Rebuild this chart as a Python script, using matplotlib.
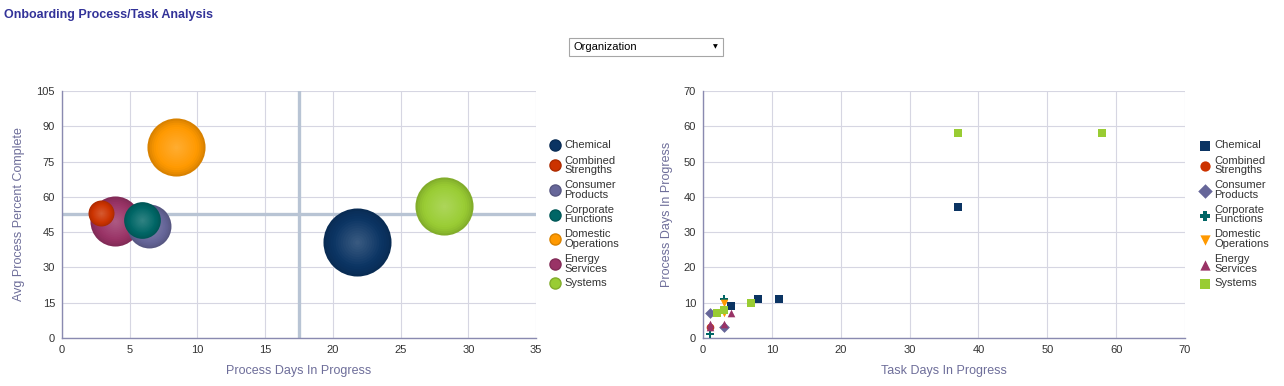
import matplotlib
matplotlib.use("Agg")
import matplotlib.pyplot as plt
import matplotlib.colors as mcolors
from matplotlib.patches import Rectangle
from matplotlib.lines import Line2D
import numpy as np

# ---------------- data ----------------
categories = ["Chemical", "Combined Strengths", "Consumer Products", "Corporate Functions",
              "Domestic Operations", "Energy Services", "Systems"]
legend_labels = ["Chemical", "Combined\nStrengths", "Consumer\nProducts", "Corporate\nFunctions",
                 "Domestic\nOperations", "Energy\nServices", "Systems"]
colors = ["#0b3463", "#cc3300", "#666699", "#006666", "#ff9900", "#993366", "#99cc33"]

# left bubble chart
bubble_x = [21.8, 2.9, 6.4, 5.9, 8.4, 3.9, 28.2]          # Process Days In Progress
bubble_y = [40.9, 53.3, 47.8, 50.2, 81.3, 49.7, 56.1]     # Avg Process Percent Complete
bubble_size = [96, 14, 40, 28, 70, 52, 70]                 # bubble size measure
ref_x = 17.5
ref_y = 52.6

# right scatter chart: Task Days In Progress (x) vs Process Days In Progress (y)
task_chemical = [37, 8, 11, 4]
proc_chemical = [37, 11, 11, 9]
task_combined = [1]
proc_combined = [3]
task_consumer = [1, 3]
proc_consumer = [7, 3]
task_corporate = [1, 3]
proc_corporate = [1, 11]
task_domestic = [3, 3]
proc_domestic = [10, 7]
task_energy = [4, 1, 3, 1]
proc_energy = [7, 4, 4, 3]
task_systems = [37, 58, 7, 2, 3]
proc_systems = [58, 58, 10, 7, 8]

scatter_x = [task_chemical, task_combined, task_consumer, task_corporate, task_domestic, task_energy, task_systems]
scatter_y = [proc_chemical, proc_combined, proc_consumer, proc_corporate, proc_domestic, proc_energy, proc_systems]
markers = ["s", "o", "D", "P", "v", "^", "s"]

# ---------------- styling ----------------
W, H = 1284, 386
fig = plt.figure(figsize=(W / 100, H / 100), dpi=100)
plt.rcParams['font.family'] = ['Liberation Sans', 'DejaVu Sans']

axis_label_color = "#6e6e9a"
tick_color = "#333333"
grid_color = "#d6d6e2"
spine_color = "#8a8ab0"


def px_axes(l, r, t, b):
    return fig.add_axes([l / W, 1 - b / H, (r - l) / W, (b - t) / H])


def style_axes(ax):
    for s in ["top", "right"]:
        ax.spines[s].set_visible(False)
    for s in ["left", "bottom"]:
        ax.spines[s].set_color(spine_color)
        ax.spines[s].set_linewidth(1)
    ax.grid(True, color=grid_color, linewidth=0.8)
    ax.set_axisbelow(True)
    ax.tick_params(length=0, labelsize=8, colors=tick_color, pad=5)


def blend(c1, c2, t):
    a = np.array(mcolors.to_rgb(c1))
    b = np.array(mcolors.to_rgb(c2))
    return tuple(a + (b - a) * t)


# ---- left bubble chart ----
ax1 = px_axes(62, 536, 91, 338)
style_axes(ax1)
ax1.set_xlim(0, 35)
ax1.set_ylim(0, 105)
ax1.set_xticks(np.arange(0, 36, 5))
ax1.set_yticks(np.arange(0, 106, 15))
ax1.axvline(ref_x, color="#b8c4d4", linewidth=2.4, zorder=1.5)
ax1.axhline(ref_y, color="#b8c4d4", linewidth=2.4, zorder=1.5)

k = 25.0
order = np.argsort(bubble_size)[::-1]
for rank, i in enumerate(order):
    base = colors[i]
    edge = blend(base, "#000000", 0.15)
    light = blend(base, "#ffffff", 0.2)
    s_full = bubble_size[i] * k
    n = 14
    for j in range(n):
        f = 1 - j / n
        t = (1 - f) ** 0.8
        c = blend(edge, base, min(1, t * 3)) if t < 0.34 else blend(base, light, (t - 0.34) / 0.66)
        ax1.scatter([bubble_x[i]], [bubble_y[i]], s=s_full * f * f, color=c,
                    linewidths=0, zorder=3 + rank + j * 0.01)
handles1 = [Line2D([], [], marker="o", linestyle="none", markersize=8,
                   markerfacecolor=colors[i], markeredgecolor=blend(colors[i], "#000000", 0.15),
                   label=legend_labels[i]) for i in range(len(categories))]
ax1.set_xlabel("Process Days In Progress", color=axis_label_color, fontsize=9, labelpad=7)
ax1.set_ylabel("Avg Process Percent Complete", color=axis_label_color, fontsize=9, labelpad=8)
leg1 = ax1.legend(handles=handles1, loc="center left", bbox_to_anchor=(1.028, 0.5),
                  frameon=False, fontsize=8, borderaxespad=0, borderpad=0,
                  handlelength=1.0, handletextpad=0.35, labelspacing=0.45)
for t in leg1.get_texts():
    t.set_color("#333333")
    t.set_linespacing(0.95)

# ---- right scatter chart ----
ax2 = px_axes(703, 1185, 91, 338)
style_axes(ax2)
ax2.set_xlim(0, 70)
ax2.set_ylim(0, 70)
ax2.set_xticks(np.arange(0, 71, 10))
ax2.set_yticks(np.arange(0, 71, 10))
for i in range(len(categories)):
    ax2.scatter(scatter_x[i], scatter_y[i], marker=markers[i], s=30, color=colors[i],
                linewidths=0, zorder=3, label=legend_labels[i])
ax2.set_xlabel("Task Days In Progress", color=axis_label_color, fontsize=9, labelpad=7)
ax2.set_ylabel("Process Days In Progress", color=axis_label_color, fontsize=9, labelpad=8)
leg2 = ax2.legend(loc="center left", bbox_to_anchor=(1.03, 0.5),
                  frameon=False, fontsize=8, borderaxespad=0, borderpad=0,
                  handlelength=1.0, handletextpad=0.35, labelspacing=0.45, markerscale=1.35,
                  scatterpoints=1)
for t in leg2.get_texts():
    t.set_color("#333333")
    t.set_linespacing(0.95)

# ---- title and dropdown ----
fig.text(4 / W, 1 - 15 / H, "Onboarding Process/Task Analysis", fontsize=9, fontweight="bold",
         color="#333399", va="center", ha="left")
fig.add_artist(Rectangle((569 / W, 1 - 56 / H), 154 / W, 18 / H, transform=fig.transFigure,
                         facecolor="white", edgecolor="#a6a6a6", linewidth=0.8))
fig.text(574 / W, 1 - 47 / H, "Organization", fontsize=8, color="#000000", va="center", ha="left")
fig.text(715 / W, 1 - 47 / H, "\u25BC", fontsize=4.5, color="#000000", va="center", ha="center",
         family=["DejaVu Sans"])

fig.savefig("out.png", dpi=100)
